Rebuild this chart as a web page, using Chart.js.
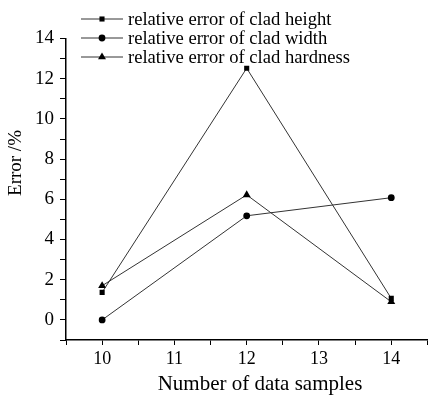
<!DOCTYPE html>
<html>
<head>
<meta charset="utf-8">
<script src="https://cdn.jsdelivr.net/npm/chart.js@4/dist/chart.umd.min.js"></script>
<style>
  html, body { margin: 0; padding: 0; background: #fff; }
  canvas { display: block; }
</style>
</head>
<body>
<canvas id="error-chart" width="432" height="395"></canvas>
<script>
// samples on the x axis
const samples = [10, 12, 14];
// relative errors in %
const heightError = [1.37, 12.52, 1.07];
const widthError = [0.0, 5.18, 6.08];
const hardnessError = [1.7, 6.22, 0.9];

const seriesLabels = ["relative error of clad height", "relative error of clad width", "relative error of clad hardness"];
const xTitle = "Number of data samples";
const yTitle = "Error /%";

const serif = "'Liberation Serif', 'Times New Roman', serif";

function toPoints(values) {
    return samples.map((s, i) => ({ x: s, y: values[i] }));
}

// legend and titles drawn by hand so they sit where the original has them
const overlayPlugin = {
    id: "overlay",
    afterDraw(chart) {
        const ctx = chart.ctx;
        ctx.save();
        ctx.fillStyle = "#000";
        ctx.strokeStyle = "#333";
        chart.data.datasets.forEach((ds, i) => {
            const y = 19 + i * 19;
            ctx.lineWidth = 1;
            ctx.beginPath();
            ctx.moveTo(81, y);
            ctx.lineTo(123, y);
            ctx.stroke();
            Chart.helpers.drawPoint(ctx, {
                pointStyle: ds.pointStyle,
                radius: ds.pointRadius,
                borderWidth: 0
            }, 102, y);
            ctx.fillStyle = "#000";
            ctx.font = "18.6px " + serif;
            ctx.textAlign = "left";
            ctx.textBaseline = "middle";
            ctx.fillText(ds.label, 128, y + 1);
        });

        ctx.font = "21px " + serif;
        ctx.textAlign = "center";
        ctx.textBaseline = "middle";
        ctx.fillText(xTitle, 260, 384);

        ctx.translate(16, 163);
        ctx.rotate(-Math.PI / 2);
        ctx.font = "19px " + serif;
        ctx.fillText(yTitle, 0, 0);
        ctx.restore();
    }
};

const lineStyle = {
    borderColor: "#333",
    borderWidth: 1,
    backgroundColor: "#000",
    pointBackgroundColor: "#000",
    pointBorderColor: "#000",
    pointBorderWidth: 0,
    tension: 0,
    fill: false
};

new Chart("error-chart", {
    type: "line",
    data: {
        datasets: [
            Object.assign({ label: seriesLabels[0], data: toPoints(heightError), pointStyle: "rect", pointRadius: 3.6 }, lineStyle),
            Object.assign({ label: seriesLabels[1], data: toPoints(widthError), pointStyle: "circle", pointRadius: 3.4 }, lineStyle),
            Object.assign({ label: seriesLabels[2], data: toPoints(hardnessError), pointStyle: "triangle", pointRadius: 4.6 }, lineStyle)
        ]
    },
    options: {
        responsive: false,
        animation: false,
        devicePixelRatio: 1,
        layout: { padding: { top: 38.5, right: 0, left: 0, bottom: 0 } },
        plugins: {
            legend: { display: false },
            tooltip: { enabled: false }
        },
        scales: {
            x: {
                type: "linear",
                min: 9.5,
                max: 14.5,
                afterFit(scale) { scale.height = 55; },
                border: { display: true, color: "#000", width: 1.5 },
                grid: { drawOnChartArea: false, drawTicks: true, tickLength: 5, color: "#000", tickColor: "#000" },
                ticks: {
                    stepSize: 0.5,
                    padding: 3,
                    color: "#000",
                    font: { family: serif, size: 18 },
                    maxRotation: 0,
                    autoSkip: false,
                    callback: (v) => (Number.isInteger(v) ? v : "")
                }
            },
            y: {
                min: -1,
                max: 14,
                afterFit(scale) { scale.width = 66; },
                border: { display: true, color: "#000", width: 1.5 },
                grid: { drawOnChartArea: false, drawTicks: true, tickLength: 6, color: "#000", tickColor: "#000" },
                ticks: {
                    stepSize: 1,
                    padding: 6,
                    color: "#000",
                    font: { family: serif, size: 19 },
                    autoSkip: false,
                    callback: (v) => (v % 2 === 0 ? v : "")
                }
            }
        }
    },
    plugins: [overlayPlugin]
});
</script>
</body>
</html>
